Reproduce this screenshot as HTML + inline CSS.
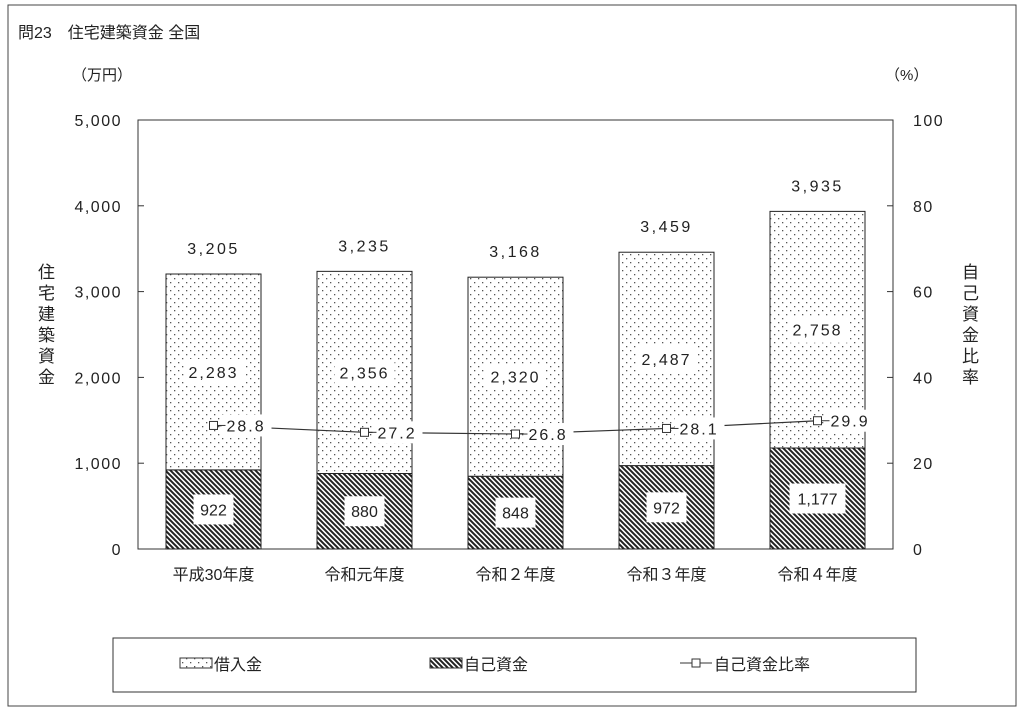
<!DOCTYPE html>
<html><head><meta charset="utf-8"><style>
body{margin:0;background:#fff;}
svg text{font-family:"Liberation Sans","Noto Sans CJK JP",sans-serif;fill:#222;}
</style></head><body>
<svg width="1024" height="711" viewBox="0 0 1024 711">
<defs>
<pattern id="dots" width="8" height="8" patternUnits="userSpaceOnUse"><rect width="8" height="8" fill="#fff"/><rect x="2" y="2" width="1.3" height="1.3" fill="#555"/><rect x="6" y="6" width="1.3" height="1.3" fill="#555"/></pattern>
<pattern id="hatch" width="5" height="5" patternUnits="userSpaceOnUse"><rect width="5" height="5" fill="#fff"/><path d="M-1,-1 L6,6 M-1,4 L1,6 M4,-1 L6,1" stroke="#222" stroke-width="2"/></pattern>
</defs>
<rect x="8" y="5" width="1008" height="701" fill="none" stroke="#444" stroke-width="1"/>
<text x="18" y="38" font-size="16">問23　住宅建築資金 全国</text>
<text x="72" y="80" font-size="15">（万円）</text>
<text x="885" y="80" font-size="15">（%）</text>
<text font-size="17"><tspan x="38" y="278">住</tspan><tspan x="38" y="299">宅</tspan><tspan x="38" y="320">建</tspan><tspan x="38" y="341">築</tspan><tspan x="38" y="362">資</tspan><tspan x="38" y="383">金</tspan></text>
<text font-size="17"><tspan x="962" y="278">自</tspan><tspan x="962" y="299">己</tspan><tspan x="962" y="320">資</tspan><tspan x="962" y="341">金</tspan><tspan x="962" y="362">比</tspan><tspan x="962" y="383">率</tspan></text>
<g id="axes"></g>
<g id="bars"></g>
<g id="line"></g>
<rect x="113" y="638" width="803" height="54" fill="#fff" stroke="#333"/>
<g><rect x="180" y="658" width="32" height="10" fill="url(#dots)" stroke="#333"/><text x="214" y="670" font-size="16">借入金</text></g>
<g><rect x="430" y="658" width="32" height="10" fill="url(#hatch)" stroke="#333"/><text x="464" y="670" font-size="16">自己資金</text></g>
<g><line x1="680" y1="663" x2="712" y2="663" stroke="#333"/><rect x="692" y="659" width="8" height="8" fill="#fff" stroke="#333"/><text x="714" y="670" font-size="16">自己資金比率</text></g>
</svg>
<script>
const categories=["平成30年度","令和元年度","令和２年度","令和３年度","令和４年度"];
const borrowed=[2283,2356,2320,2487,2758];
const own=[922,880,848,972,1177];
const totals=[3205,3235,3168,3459,3935];
const ratio=[28.8,27.2,26.8,28.1,29.9];
const leftTicks=[0,1000,2000,3000,4000,5000];
const rightTicks=[0,20,40,60,80,100];
const NS="http://www.w3.org/2000/svg";
const X0=138,X1=893,Y0=549,Y1=120;
const y=v=>Y0-(v/5000)*(Y0-Y1);
const yr=v=>Y0-(v/100)*(Y0-Y1);
const step=(X1-X0)/categories.length;
const xc=i=>X0+step*(i+0.5);
const fmt=n=>n.toLocaleString("en-US");
function mk(tag,attrs,parent,txt){const e=document.createElementNS(NS,tag);for(const k in attrs)e.setAttribute(k,attrs[k]);if(txt!==undefined)e.textContent=txt;parent.appendChild(e);return e;}
const ax=document.getElementById("axes"),bg=document.getElementById("bars"),lg=document.getElementById("line");
const frame=mk("rect",{x:X0,y:Y1,width:X1-X0,height:Y0-Y1,fill:"none",stroke:"#333"},ax);


leftTicks.forEach(t=>{const g=mk("g",{},ax);


mk("line",{x1:X0,x2:X0+6,y1:y(t),y2:y(t),stroke:"#333"},g);mk("text",{x:X0-16,y:y(t)+6,"text-anchor":"end","font-size":16,"letter-spacing":1.5},g,fmt(t));});
rightTicks.forEach(t=>{const g=mk("g",{},ax);


mk("line",{x1:X1-6,x2:X1,y1:yr(t),y2:yr(t),stroke:"#333"},g);mk("text",{x:X1+20,y:yr(t)+6,"font-size":16,"letter-spacing":1.5},g,String(t));});
categories.forEach((c,i)=>{
const cx=xc(i),w=95,x=cx-w/2;
const t=mk("text",{x:cx,y:Y0+31,"text-anchor":"middle","font-size":16},ax,c);


const r1=mk("rect",{x:x,y:y(own[i]),width:w,height:Y0-y(own[i]),fill:"url(#hatch)",stroke:"#222"},bg);


const r2=mk("rect",{x:x,y:y(own[i]+borrowed[i]),width:w,height:y(own[i])-y(own[i]+borrowed[i]),fill:"url(#dots)",stroke:"#222"},bg);


const oy=(y(own[i])+Y0)/2;
const lw=own[i]>=1000?56:40;
mk("rect",{x:cx-lw/2,y:oy-15,width:lw,height:30,fill:"#fff"},bg);
const t1=mk("text",{x:cx,y:oy+6,"text-anchor":"middle","font-size":16},bg,fmt(own[i]));


const by=(y(own[i])+y(own[i]+borrowed[i]))/2;
mk("rect",{x:cx-30,y:by-13,width:60,height:26,fill:"#fff"},bg);
const t2=mk("text",{x:cx,y:by+6,"text-anchor":"middle","font-size":16,"letter-spacing":2},bg,fmt(borrowed[i]));


const t3=mk("text",{x:cx,y:y(totals[i])-20,"text-anchor":"middle","font-size":16,"letter-spacing":2.5},bg,fmt(totals[i]));


});
const pts=ratio.map((v,i)=>xc(i)+","+yr(v)).join(" ");
const pl=mk("polyline",{points:pts,fill:"none",stroke:"#333","stroke-width":1.2},lg);


ratio.forEach((v,i)=>{
const cx=xc(i),cy=yr(v);
mk("rect",{x:cx+8,y:cy-11,width:50,height:22,fill:"#fff"},lg);
mk("line",{x1:cx,x2:cx+12,y1:cy,y2:cy,stroke:"#333"},lg);
const m=mk("rect",{x:cx-4,y:cy-4,width:8,height:8,fill:"#fff",stroke:"#333"},lg);


const t=mk("text",{x:cx+13,y:cy+6,"font-size":16,"letter-spacing":2},lg,v.toFixed(1));


});
</script>
</body></html>
